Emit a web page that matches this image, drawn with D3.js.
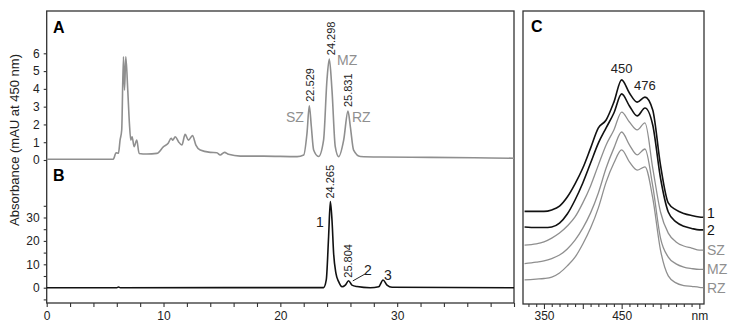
<!DOCTYPE html>
<html>
<head>
<meta charset="utf-8">
<script src="https://cdn.jsdelivr.net/npm/d3@7"></script>
<style>
  body { margin: 0; background: #fff; }
  svg { display: block; font-family: "Liberation Sans", Arial, sans-serif; }
</style>
</head>
<body>
<svg id="chart" width="734" height="327"></svg>
<script>
// chromatogram A (grey trace), time in min, absorbance in mAU
const timeA = [0, 5.7, 5.94, 6.14, 6.28, 6.42, 6.57, 6.66, 6.77, 6.94, 7.08, 7.2, 7.31, 7.48, 7.71, 7.91,
  8.57, 9.43, 10.0, 10.4, 10.65, 10.8, 11.0, 11.28, 11.57, 11.85, 12.13, 12.48, 12.77, 13.14, 14.0, 14.57,
  14.85, 15.22, 15.56, 16.57, 18.57, 21.43, 22.0, 22.28, 22.48, 22.65, 22.85, 23.27, 23.7, 23.99, 24.19,
  24.42, 24.7, 24.99, 25.42, 25.79, 25.99, 26.27, 26.85, 28.56, 32.84, 40];
const valueA = [0.04, 0.05, 0.41, 0.38, 1.12, 1.69, 5.8, 3.93, 5.8, 3.9, 2.06, 1.12, 1.31, 0.75, 1.12, 0.37,
  0.34, 0.37, 0.75, 0.94, 1.22, 1.12, 1.31, 1.03, 0.84, 1.44, 1.12, 1.37, 0.84, 0.56, 0.43, 0.41,
  0.28, 0.43, 0.32, 0.22, 0.22, 0.19, 0.28, 1.5, 3.05, 1.9, 0.56, 0.2, 1.12, 4.5, 5.67,
  3.93, 0.75, 0.19, 1.12, 2.75, 1.88, 0.56, 0.2, 0.17, 0.15, 0.1];

// chromatogram B (black trace)
const timeB = [0, 6.0, 6.15, 6.3, 23.7, 23.93, 24.13, 24.28, 24.42, 24.56, 24.76, 24.99, 25.28, 25.56, 25.84,
  26.13, 26.56, 27.7, 28.42, 28.79, 29.13, 29.56, 40];
const valueB = [0, 0, 0.3, 0, 0.05, 3.3, 21.8, 36.8, 28.9, 14.7, 6.1, 2.6, 0.4, 1.1, 3.0,
  1.1, 0.5, 0, 0.4, 3.3, 1.1, 0.2, 0];

// peak annotations
const peaksA = [
  { t: 22.529, v: 3.05, rt: "22.529", name: "SZ" },
  { t: 24.298, v: 5.67, rt: "24.298", name: "MZ" },
  { t: 25.831, v: 2.75, rt: "25.831", name: "RZ" }
];
const peaksB = [
  { t: 24.265, v: 36.8, rt: "24.265" },
  { t: 25.804, v: 3.0, rt: "25.804" }
];

// absorption spectra C, wavelength in nm, arbitrary offset units
const wavelengths = [325, 340, 350, 360, 370, 380, 390, 400, 410, 420, 430, 440, 450, 460, 470, 480, 490, 500, 510, 520, 530, 540, 550, 555];
const spec1 = [31.6, 31.6, 31.6, 32.1, 33.4, 36.5, 41.0, 46.4, 53.2, 60.1, 62.8, 68.9, 76.5, 72.0, 68.9, 70.6, 66.2, 47.4, 34.5, 32.1, 30.9, 30.2, 29.7, 29.6];
const spec2 = [26.3, 26.1, 26.1, 26.3, 27.6, 30.7, 35.5, 41.3, 48.1, 54.9, 60.1, 65.2, 71.7, 67.6, 64.2, 66.9, 61.1, 43.0, 31.4, 28.0, 26.5, 25.8, 25.3, 25.3];
const specSZ = [20.1, 20.5, 21.2, 22.5, 24.2, 26.6, 29.7, 34.5, 40.3, 47.4, 54.3, 59.4, 65.5, 62.1, 59.4, 61.8, 46.4, 31.4, 24.2, 21.2, 19.8, 19.1, 18.4, 18.4];
const specMZ = [13.8, 14.3, 14.7, 15.5, 16.7, 18.8, 21.8, 25.9, 31.1, 37.9, 46.4, 53.2, 58.7, 54.3, 50.9, 52.9, 40.3, 22.5, 16.0, 13.7, 12.6, 12.1, 11.8, 11.8];
const specRZ = [8.2, 8.5, 8.7, 9.2, 10.6, 13.0, 16.0, 20.5, 25.9, 32.8, 41.6, 48.1, 52.6, 48.5, 45.7, 46.8, 36.2, 18.4, 9.6, 7.2, 6.3, 6.0, 5.7, 5.6];
const specNames = ["1", "2", "SZ", "MZ", "RZ"];

const black = "#111";
const grey = "#8f8f8f";
const frame = "#333";

const svg = d3.select("#chart");

// ---- left panel (A + B share the time axis)
const x = d3.scaleLinear().domain([0, 40]).range([46.7, 514]);
const yA = d3.scaleLinear().domain([0, 6]).range([160, 53.3]);
const yB = d3.scaleLinear().domain([0, 30]).range([287.7, 217.5]);

svg.append("rect")
  .attr("x", 46.7).attr("y", 11)
  .attr("width", 514 - 46.7).attr("height", 303 - 11)
  .attr("fill", "none").attr("stroke", frame).attr("stroke-width", 1.3);

function styleAxis(g) {
  g.select(".domain").remove();
  g.selectAll(".tick line").attr("stroke", frame).attr("stroke-width", 1.1);
  g.selectAll(".tick text").attr("fill", "#222").attr("font-size", 12).attr("font-family", "Liberation Sans, Arial, sans-serif");
}

const xAxis = svg.append("g")
  .attr("transform", "translate(0,303)")
  .call(d3.axisBottom(x).tickValues(d3.range(0, 41, 2)).tickSize(4).tickPadding(4)
    .tickFormat(d => (d % 10 === 0 && d < 40) ? d : ""));
styleAxis(xAxis);

const yAxisA = svg.append("g")
  .attr("transform", "translate(46.7,0)")
  .call(d3.axisLeft(yA).tickValues(d3.range(0, 7)).tickSize(3).tickPadding(4)
    .tickFormat(d3.format("d")));
styleAxis(yAxisA);

const yAxisB = svg.append("g")
  .attr("transform", "translate(46.7,0)")
  .call(d3.axisLeft(yB).tickValues(d3.range(-5, 36, 5)).tickSize(3).tickPadding(4)
    .tickFormat(d => d % 10 === 0 ? d : ""));
styleAxis(yAxisB);

svg.append("text")
  .attr("transform", "translate(19,140) rotate(-90)")
  .attr("text-anchor", "middle")
  .attr("font-size", 13).attr("fill", "#222")
  .text("Absorbance (mAU at 450 nm)");

// traces
const lineA = d3.line().x((d, i) => x(timeA[i])).y(d => yA(d)).curve(d3.curveMonotoneX);
svg.append("path").attr("d", lineA(valueA))
  .attr("fill", "none").attr("stroke", grey).attr("stroke-width", 1.6);

const lineB = d3.line().x((d, i) => x(timeB[i])).y(d => yB(d)).curve(d3.curveMonotoneX);
svg.append("path").attr("d", lineB(valueB))
  .attr("fill", "none").attr("stroke", black).attr("stroke-width", 1.6);

// panel letters
svg.append("text").attr("x", 53).attr("y", 33).attr("font-size", 16).attr("font-weight", "bold").text("A");
svg.append("text").attr("x", 53).attr("y", 181).attr("font-size", 16).attr("font-weight", "bold").text("B");
svg.append("text").attr("x", 531).attr("y", 32).attr("font-size", 16).attr("font-weight", "bold").text("C");

// retention time labels A
peaksA.forEach(p => {
  svg.append("text")
    .attr("transform", `translate(${x(p.t) + 4},${yA(p.v) - 4}) rotate(-90)`)
    .attr("font-size", 11).attr("fill", "#222")
    .text(p.rt);
});
svg.append("text").attr("x", 286).attr("y", 122).attr("font-size", 14).attr("fill", grey).text("SZ");
svg.append("text").attr("x", 337).attr("y", 65).attr("font-size", 14).attr("fill", grey).text("MZ");
svg.append("text").attr("x", 352).attr("y", 122).attr("font-size", 14).attr("fill", grey).text("RZ");

// retention time labels B
peaksB.forEach(p => {
  svg.append("text")
    .attr("transform", `translate(${x(p.t) + 4},${yB(p.v) - 3}) rotate(-90)`)
    .attr("font-size", 11).attr("fill", "#222")
    .text(p.rt);
});
svg.append("text").attr("x", 316).attr("y", 227).attr("font-size", 14).attr("fill", "#222").text("1");
svg.append("text").attr("x", 364).attr("y", 275).attr("font-size", 14).attr("fill", "#222").text("2");
svg.append("text").attr("x", 384).attr("y", 280).attr("font-size", 14).attr("fill", "#222").text("3");
svg.append("line")
  .attr("x1", x(26.2)).attr("y1", yB(2.9))
  .attr("x2", x(27.3)).attr("y2", yB(6.0))
  .attr("stroke", "#222").attr("stroke-width", 1);

// ---- right panel C (spectra)
const xC = d3.scaleLinear().domain([323, 556]).range([523, 704]);
const yC = d3.scaleLinear().domain([0, 100]).range([304, 11]);

svg.append("rect")
  .attr("x", 523).attr("y", 11)
  .attr("width", 704 - 523).attr("height", 304 - 11)
  .attr("fill", "none").attr("stroke", frame).attr("stroke-width", 1.3);

const xAxisC = svg.append("g")
  .attr("transform", "translate(0,304)")
  .call(d3.axisBottom(xC).tickValues(d3.range(330, 551, 10)).tickSize(3).tickPadding(4)
    .tickFormat(d => (d === 350 || d === 450) ? d : (d === 550 ? "nm" : "")));
styleAxis(xAxisC);
xAxisC.selectAll(".tick line").attr("y2", d => d % 50 === 0 ? 5 : 3);

const specs = [spec1, spec2, specSZ, specMZ, specRZ];
const specColors = [black, black, grey, grey, grey];
const lineC = d3.line().x((d, i) => xC(wavelengths[i])).y(d => yC(d)).curve(d3.curveMonotoneX);

specs.forEach((s, k) => {
  svg.append("path").attr("d", lineC(s))
    .attr("fill", "none").attr("stroke", specColors[k]).attr("stroke-width", k < 2 ? 1.6 : 1.3);
  // first label sits a little above its curve end so "1" and "2" do not collide
  const nudge = k === 0 ? -4 : 0;
  svg.append("text")
    .attr("x", 707).attr("y", yC(s[s.length - 1]) + 5 + nudge)
    .attr("font-size", 14).attr("fill", k < 2 ? "#111" : grey)
    .text(specNames[k]);
});

svg.append("text").attr("x", xC(450)).attr("y", yC(spec1[12]) - 7)
  .attr("text-anchor", "middle").attr("font-size", 13).attr("fill", "#222").text("450");
svg.append("text").attr("x", xC(480)).attr("y", yC(spec1[15]) - 7)
  .attr("text-anchor", "middle").attr("font-size", 13).attr("fill", "#222").text("476");
</script>
</body>
</html>
